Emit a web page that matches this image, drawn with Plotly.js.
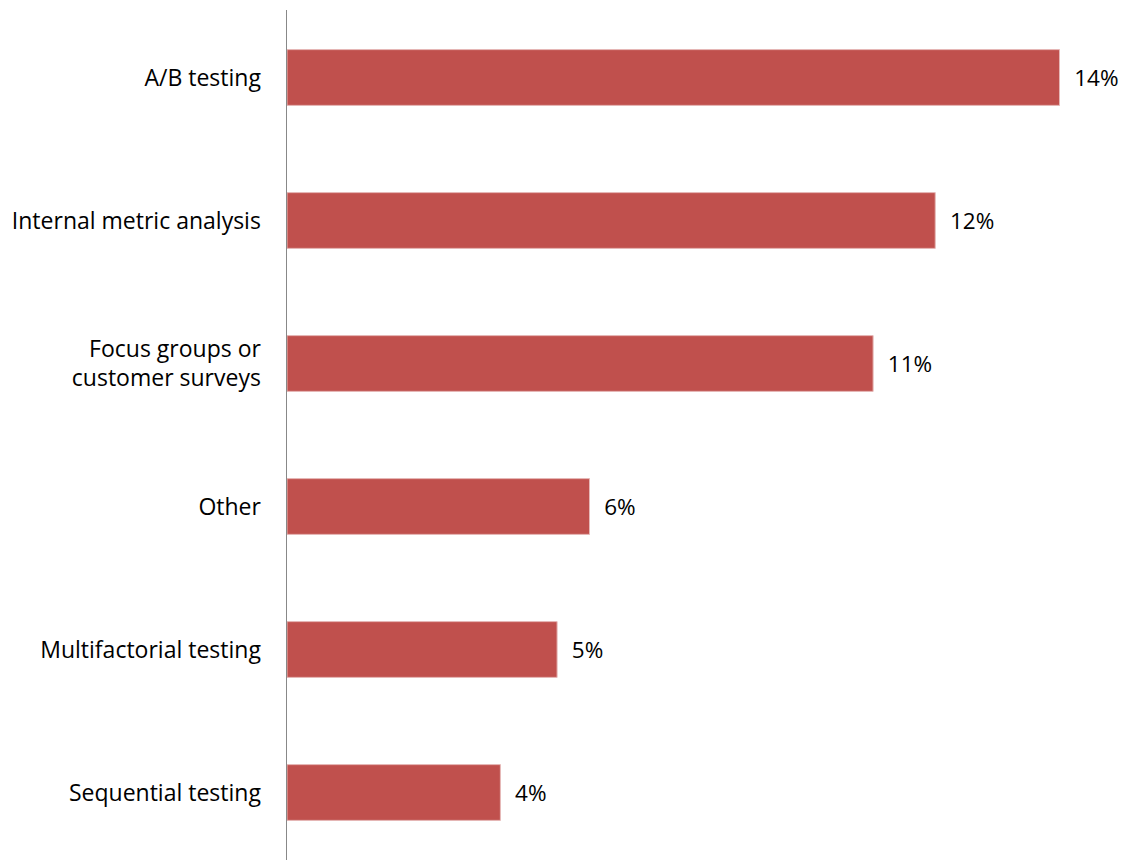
<!DOCTYPE html>
<html>
<head>
<meta charset="utf-8">
<script src="https://cdn.plot.ly/plotly-3.0.1.min.js"></script>
<style>html,body{margin:0;padding:0;background:#fff;}#chart{width:1128px;height:863px;}</style>
</head>
<body>
<div id="chart"></div>
<script>
const categories = ["A/B testing", "Internal metric analysis", "Focus groups or<br>customer surveys", "Other", "Multifactorial testing", "Sequential testing"];
const values = [14.3, 12.0, 10.85, 5.6, 5.0, 3.95];
const labels = ["14%", "12%", "11%", "6%", "5%", "4%"];

const FONT = "'Open Sans', sans-serif";

const trace = {
  type: "bar",
  orientation: "h",
  y: categories,
  x: values,
  text: labels.map(t => "\u00a0\u00a0" + t),
  textposition: "outside",
  cliponaxis: false,
  textfont: {family: FONT, size: 22.5, color: "#000"},
  marker: {color: "#C0504D", line: {color: "#E6B9B8", width: 1}},
  hoverinfo: "skip"
};

const layout = {
  width: 1128, height: 863,
  margin: {l: 287, r: 28, t: 10, b: 3},
  paper_bgcolor: "#fff", plot_bgcolor: "#fff",
  showlegend: false,
  bargap: 0.61,
  font: {family: FONT, size: 23, color: "#000"},
  xaxis: {range: [0, 15.05], visible: false, showgrid: false, zeroline: false},
  yaxis: {
    range: [5.472, -0.472],
    showline: true, linecolor: "#888888", linewidth: 1.5,
    ticks: "", showgrid: false, zeroline: false,
    ticklabelstandoff: 20,
    tickfont: {family: FONT, size: 23, color: "#000"}
  }
};

Plotly.newPlot("chart", [trace], layout, {staticPlot: true, displayModeBar: false});
</script>
</body>
</html>
